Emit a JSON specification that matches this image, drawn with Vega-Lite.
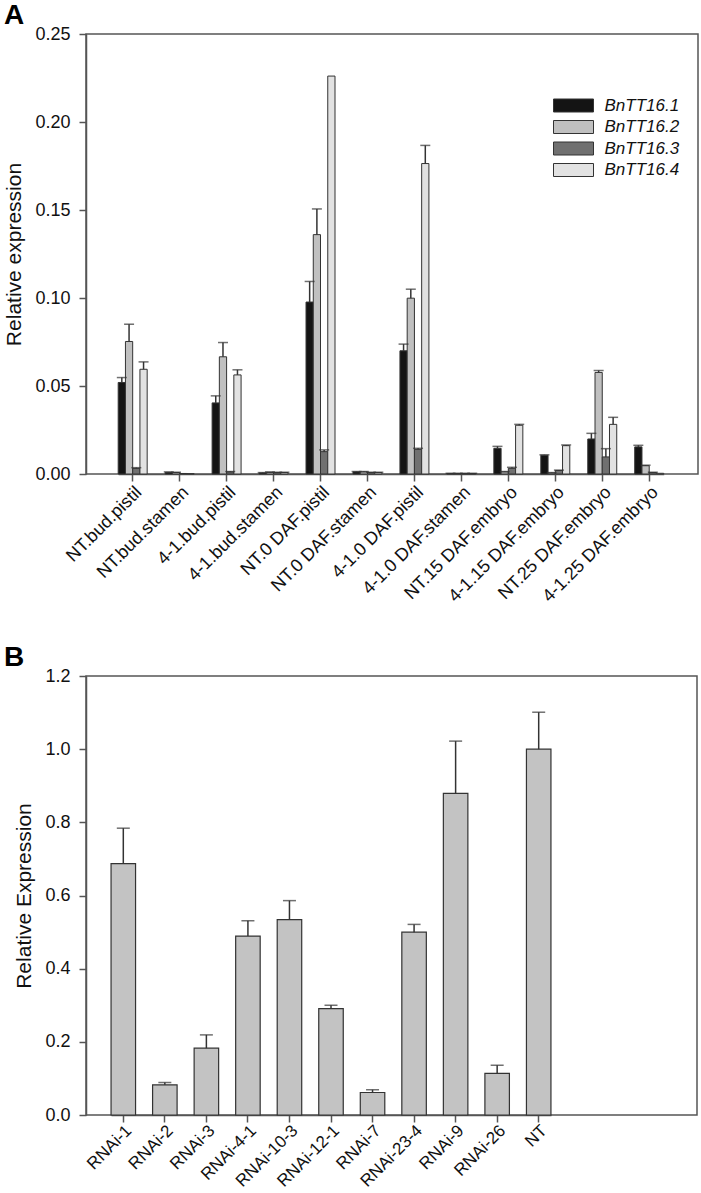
{
  "$schema": "https://vega.github.io/schema/vega-lite/v6.json",
  "background": "white",
  "padding": {"left": 3, "top": 0, "right": 5, "bottom": 0},
  "bounds": "flush",
  "spacing": 202,
  "config": {
    "font": "Liberation Sans",
    "view": {"stroke": "#555", "strokeWidth": 1.5},
    "axis": {"grid": false, "domainColor": "#555", "domainWidth": 1.5, "tickColor": "#555", "tickWidth": 1.5, "tickSize": 7, "labelFont": "Liberation Sans", "labelFontSize": 18, "labelColor": "#111", "titleFont": "Liberation Sans", "titleFontSize": 21, "titleFontWeight": "normal", "titleColor": "#111", "titlePadding": 10},
    "axisY": {"labelPadding": 9},
    "axisX": {"labelPadding": 2},
    "title": {"font": "Liberation Sans", "fontSize": 28, "fontWeight": "bold", "anchor": "start", "frame": "bounds", "color": "#000"}
  },
  "vconcat": [
    {
      "title": {"text": "A", "offset": -4.5},
      "width": 612,
      "height": 440,
      "data": {"values": [
        {"sample": "NT.bud.pistil", "gene": "BnTT16.1", "value": 0.052, "hi": 0.0548},
        {"sample": "NT.bud.pistil", "gene": "BnTT16.2", "value": 0.0753, "hi": 0.0851},
        {"sample": "NT.bud.pistil", "gene": "BnTT16.3", "value": 0.0032, "hi": 0.0036},
        {"sample": "NT.bud.pistil", "gene": "BnTT16.4", "value": 0.0595, "hi": 0.0637},
        {"sample": "NT.bud.stamen", "gene": "BnTT16.1", "value": 0.0009, "hi": 0.0012},
        {"sample": "NT.bud.stamen", "gene": "BnTT16.2", "value": 0.0008, "hi": 0.001},
        {"sample": "NT.bud.stamen", "gene": "BnTT16.3", "value": 0.0003, "hi": 0.0003},
        {"sample": "NT.bud.stamen", "gene": "BnTT16.4", "value": 0.0002, "hi": 0.0002},
        {"sample": "4-1.bud.pistil", "gene": "BnTT16.1", "value": 0.0404, "hi": 0.0444},
        {"sample": "4-1.bud.pistil", "gene": "BnTT16.2", "value": 0.0666, "hi": 0.0747},
        {"sample": "4-1.bud.pistil", "gene": "BnTT16.3", "value": 0.0012, "hi": 0.0014},
        {"sample": "4-1.bud.pistil", "gene": "BnTT16.4", "value": 0.0563, "hi": 0.0592},
        {"sample": "4-1.bud.stamen", "gene": "BnTT16.1", "value": 0.0006, "hi": 0.0008},
        {"sample": "4-1.bud.stamen", "gene": "BnTT16.2", "value": 0.0009, "hi": 0.0012},
        {"sample": "4-1.bud.stamen", "gene": "BnTT16.3", "value": 0.0008, "hi": 0.001},
        {"sample": "4-1.bud.stamen", "gene": "BnTT16.4", "value": 0.0008, "hi": 0.001},
        {"sample": "NT.0 DAF.pistil", "gene": "BnTT16.1", "value": 0.0977, "hi": 0.1094},
        {"sample": "NT.0 DAF.pistil", "gene": "BnTT16.2", "value": 0.136, "hi": 0.1506},
        {"sample": "NT.0 DAF.pistil", "gene": "BnTT16.3", "value": 0.0127, "hi": 0.0137},
        {"sample": "NT.0 DAF.pistil", "gene": "BnTT16.4", "value": 0.2261, "hi": 0.2261},
        {"sample": "NT.0 DAF.stamen", "gene": "BnTT16.1", "value": 0.0012, "hi": 0.0014},
        {"sample": "NT.0 DAF.stamen", "gene": "BnTT16.2", "value": 0.0012, "hi": 0.0014},
        {"sample": "NT.0 DAF.stamen", "gene": "BnTT16.3", "value": 0.0008, "hi": 0.001},
        {"sample": "NT.0 DAF.stamen", "gene": "BnTT16.4", "value": 0.0008, "hi": 0.001},
        {"sample": "4-1.0 DAF.pistil", "gene": "BnTT16.1", "value": 0.07, "hi": 0.0738},
        {"sample": "4-1.0 DAF.pistil", "gene": "BnTT16.2", "value": 0.0999, "hi": 0.105},
        {"sample": "4-1.0 DAF.pistil", "gene": "BnTT16.3", "value": 0.014, "hi": 0.0146},
        {"sample": "4-1.0 DAF.pistil", "gene": "BnTT16.4", "value": 0.1764, "hi": 0.1867},
        {"sample": "4-1.0 DAF.stamen", "gene": "BnTT16.1", "value": 0.0003, "hi": 0.0004},
        {"sample": "4-1.0 DAF.stamen", "gene": "BnTT16.2", "value": 0.0003, "hi": 0.0004},
        {"sample": "4-1.0 DAF.stamen", "gene": "BnTT16.3", "value": 0.0003, "hi": 0.0004},
        {"sample": "4-1.0 DAF.stamen", "gene": "BnTT16.4", "value": 0.0003, "hi": 0.0004},
        {"sample": "NT.15 DAF.embryo", "gene": "BnTT16.1", "value": 0.0146, "hi": 0.0157},
        {"sample": "NT.15 DAF.embryo", "gene": "BnTT16.2", "value": 0.0012, "hi": 0.0014},
        {"sample": "NT.15 DAF.embryo", "gene": "BnTT16.3", "value": 0.0032, "hi": 0.0038},
        {"sample": "NT.15 DAF.embryo", "gene": "BnTT16.4", "value": 0.0277, "hi": 0.0282},
        {"sample": "4-1.15 DAF.embryo", "gene": "BnTT16.1", "value": 0.0106, "hi": 0.0109},
        {"sample": "4-1.15 DAF.embryo", "gene": "BnTT16.2", "value": 0.0006, "hi": 0.0008},
        {"sample": "4-1.15 DAF.embryo", "gene": "BnTT16.3", "value": 0.002, "hi": 0.0022},
        {"sample": "4-1.15 DAF.embryo", "gene": "BnTT16.4", "value": 0.0161, "hi": 0.0165},
        {"sample": "NT.25 DAF.embryo", "gene": "BnTT16.1", "value": 0.0199, "hi": 0.0231},
        {"sample": "NT.25 DAF.embryo", "gene": "BnTT16.2", "value": 0.0577, "hi": 0.0588},
        {"sample": "NT.25 DAF.embryo", "gene": "BnTT16.3", "value": 0.0097, "hi": 0.0144},
        {"sample": "NT.25 DAF.embryo", "gene": "BnTT16.4", "value": 0.0282, "hi": 0.0322},
        {"sample": "4-1.25 DAF.embryo", "gene": "BnTT16.1", "value": 0.0154, "hi": 0.0163},
        {"sample": "4-1.25 DAF.embryo", "gene": "BnTT16.2", "value": 0.0047, "hi": 0.005},
        {"sample": "4-1.25 DAF.embryo", "gene": "BnTT16.3", "value": 0.0008, "hi": 0.001},
        {"sample": "4-1.25 DAF.embryo", "gene": "BnTT16.4", "value": 0.0004, "hi": 0.0004}
      ]},
      "encoding": {
        "x": {"field": "sample", "type": "nominal", "sort": null,
              "scale": {"paddingInner": 0.383, "paddingOuter": 0, "range": [32.2, 577.7]},
              "axis": {"title": null, "labelAngle": -45}},
        "xOffset": {"field": "gene", "type": "nominal", "sort": null, "scale": {"paddingInner": 0, "paddingOuter": 0}}
      },
      "layer": [
        {
          "mark": {"type": "bar", "stroke": "#333", "strokeWidth": 1},
          "encoding": {
            "y": {"field": "value", "type": "quantitative", "scale": {"domain": [0, 0.25], "nice": false},
                  "axis": {"title": "Relative expression", "values": [0, 0.05, 0.1, 0.15, 0.2, 0.25], "format": ".2f"}},
            "color": {"field": "gene", "type": "nominal", "sort": null,
                      "scale": {"domain": ["BnTT16.1", "BnTT16.2", "BnTT16.3", "BnTT16.4"], "range": ["#141414", "#c0c0c0", "#707070", "#e2e2e2"]},
                      "legend": {"title": null, "orient": "none", "legendX": 479, "legendY": 63, "symbolType": "M-4,-1.3L4,-1.3L4,1.3L-4,1.3Z", "symbolSize": 100, "symbolStrokeColor": "#333", "symbolStrokeWidth": 1, "symbolOpacity": 1, "labelFontStyle": "italic", "labelFontSize": 17, "labelFont": "Liberation Sans", "labelColor": "#111", "labelOffset": 22.5, "rowPadding": 3.5}}
          }
        },
        {
          "mark": {"type": "rule", "color": "#333", "strokeWidth": 1.5},
          "encoding": {"y": {"field": "value", "type": "quantitative"}, "y2": {"field": "hi"}}
        },
        {
          "transform": [{"filter": "datum.hi > datum.value"}],
          "mark": {"type": "tick", "color": "#333", "thickness": 1.5, "size": 10},
          "encoding": {"y": {"field": "hi", "type": "quantitative"}}
        }
      ]
    },
    {
      "title": {"text": "B", "offset": -4.5, "dx": -10},
      "width": 611,
      "height": 439,
      "data": {"values": [
        {"line": "RNAi-1", "value": 0.687, "hi": 0.784},
        {"line": "RNAi-2", "value": 0.0826, "hi": 0.0888},
        {"line": "RNAi-3", "value": 0.1826, "hi": 0.219},
        {"line": "RNAi-4-1", "value": 0.489, "hi": 0.531},
        {"line": "RNAi-10-3", "value": 0.534, "hi": 0.586},
        {"line": "RNAi-12-1", "value": 0.291, "hi": 0.3},
        {"line": "RNAi-7", "value": 0.0615, "hi": 0.069},
        {"line": "RNAi-23-4", "value": 0.4998, "hi": 0.521},
        {"line": "RNAi-9", "value": 0.879, "hi": 1.022},
        {"line": "RNAi-26", "value": 0.114, "hi": 0.136},
        {"line": "NT", "value": 1.0, "hi": 1.101}
      ]},
      "encoding": {
        "x": {"field": "line", "type": "nominal", "sort": null,
              "scale": {"paddingInner": 0.41, "paddingOuter": 0, "range": [25.05, 464.95]},
              "axis": {"title": null, "labelAngle": -45, "labelPadding": 0, "labelFontSize": 17}}
      },
      "layer": [
        {
          "mark": {"type": "bar", "fill": "#c3c3c3", "stroke": "#333", "strokeWidth": 1.2},
          "encoding": {
            "y": {"field": "value", "type": "quantitative", "scale": {"domain": [0, 1.2], "nice": false},
                  "axis": {"title": "Relative Expression", "values": [0, 0.2, 0.4, 0.6, 0.8, 1.0, 1.2], "format": ".1f"}}
          }
        },
        {
          "mark": {"type": "rule", "color": "#333", "strokeWidth": 1.5},
          "encoding": {"y": {"field": "value", "type": "quantitative"}, "y2": {"field": "hi"}}
        },
        {
          "mark": {"type": "tick", "color": "#333", "thickness": 1.5, "size": 13},
          "encoding": {"y": {"field": "hi", "type": "quantitative"}}
        }
      ]
    }
  ]
}
